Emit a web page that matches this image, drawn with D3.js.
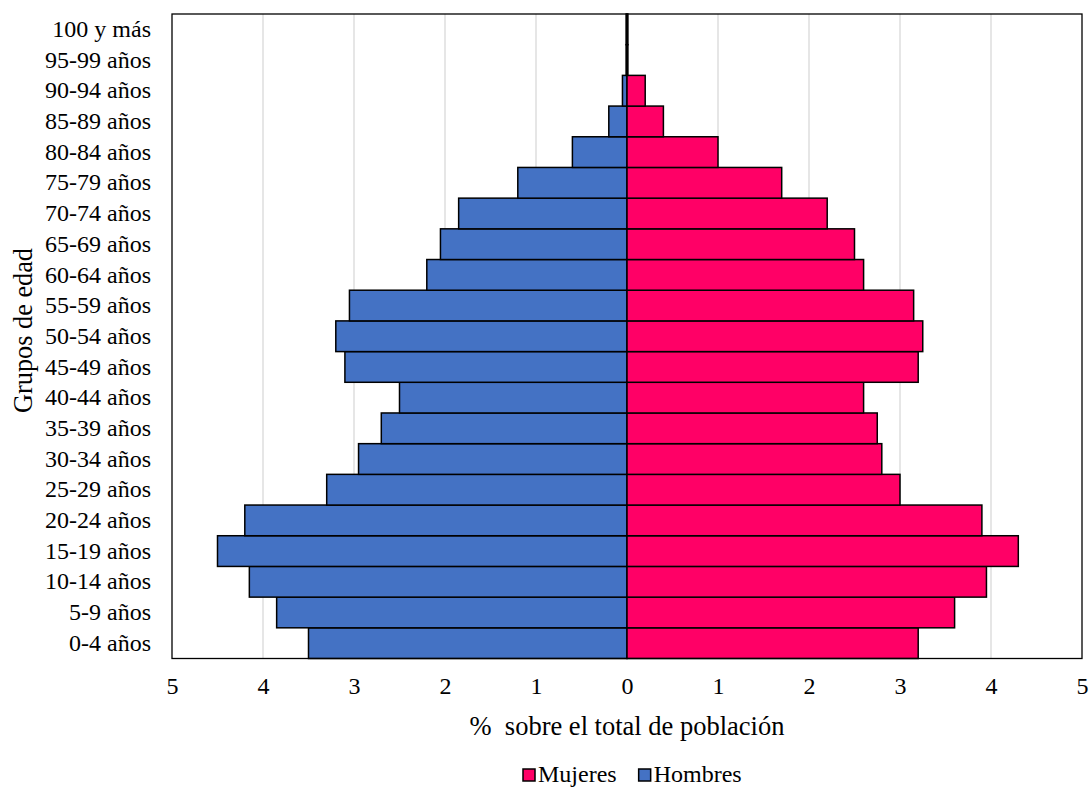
<!DOCTYPE html>
<html><head><meta charset="utf-8">
<script src="https://cdn.jsdelivr.net/npm/d3@7"></script>
<style>body{margin:0;background:#fff}svg{display:block}text{font-family:"Liberation Serif","Times New Roman",serif;fill:#000}</style>
</head><body>
<svg id="c" width="1090" height="787"></svg>
<script>
const groups = ["0-4 años","5-9 años","10-14 años","15-19 años","20-24 años","25-29 años","30-34 años","35-39 años","40-44 años","45-49 años","50-54 años","55-59 años","60-64 años","65-69 años","70-74 años","75-79 años","80-84 años","85-89 años","90-94 años","95-99 años","100 y más"];
const hombres = [3.5,3.85,4.15,4.5,4.2,3.3,2.95,2.7,2.5,3.1,3.2,3.05,2.2,2.05,1.85,1.2,0.6,0.2,0.05,0.01,0.01];
const mujeres = [3.2,3.6,3.95,4.3,3.9,3.0,2.8,2.75,2.6,3.2,3.25,3.15,2.6,2.5,2.2,1.7,1.0,0.4,0.2,0.01,0.01];
const xTicks = [-5,-4,-3,-2,-1,0,1,2,3,4,5];
const seriesNames = ["Mujeres","Hombres"];
const colors = {Mujeres:"#ff0066", Hombres:"#4472c4"};

const L=172, R=1082, T=14, B=658.5;
const svg = d3.select("#c");
const x = d3.scaleLinear().domain([-5,5]).range([L,R]);
const y = d3.scaleBand().domain(groups.slice().reverse()).range([T,B]).padding(0);

// gridlines
svg.append("g").selectAll("line").data(xTicks.filter(d=>d!==0 && Math.abs(d)!==5)).join("line")
  .attr("x1",d=>x(d)).attr("x2",d=>x(d)).attr("y1",T).attr("y2",B)
  .attr("stroke","#d9d9d9").attr("stroke-width",1.3);

// bars
const data = groups.map((g,i)=>({g, h:hombres[i], m:mujeres[i]}));
svg.append("g").selectAll("rect").data(data).join("rect")
  .attr("x",d=>x(-d.h)).attr("width",d=>x(0)-x(-d.h))
  .attr("y",d=>y(d.g)).attr("height",y.bandwidth())
  .attr("fill",colors.Hombres).attr("stroke","#000").attr("stroke-width",1.5);
svg.append("g").selectAll("rect").data(data).join("rect")
  .attr("x",x(0)).attr("width",d=>x(d.m)-x(0))
  .attr("y",d=>y(d.g)).attr("height",y.bandwidth())
  .attr("fill",colors.Mujeres).attr("stroke","#000").attr("stroke-width",1.5);

// frame
svg.append("rect").attr("x",L).attr("y",T).attr("width",R-L).attr("height",B-T)
  .attr("fill","none").attr("stroke","#000").attr("stroke-width",1.3);

// x axis labels
const xa = svg.append("g").attr("transform",`translate(0,${B})`)
  .call(d3.axisBottom(x).tickValues(xTicks).tickSize(0).tickPadding(18).tickFormat(d=>Math.abs(d)));
xa.select(".domain").remove();
xa.selectAll("text").style("font-size","24px").style("font-family","Liberation Serif");

// y axis labels
const ya = svg.append("g").attr("transform",`translate(${L},0)`)
  .call(d3.axisLeft(y).tickSize(0).tickPadding(21));
ya.select(".domain").remove();
ya.selectAll("text").style("font-size","24px").style("font-family","Liberation Serif");

// titles
svg.append("text").attr("x",627).attr("y",735).attr("text-anchor","middle")
  .style("font-size","26.5px").style("white-space","pre").text("%  sobre el total de población");
svg.append("text").attr("transform",`translate(32,${330.5}) rotate(-90)`).attr("text-anchor","middle")
  .style("font-size","26.3px").text("Grupos de edad");

// legend
const lg = svg.append("g");
let lx = 523;
seriesNames.forEach(n=>{
  lg.append("rect").attr("x",lx).attr("y",769).attr("width",12).attr("height",12)
    .attr("fill",colors[n]).attr("stroke","#000").attr("stroke-width",1.5);
  const t = lg.append("text").attr("x",lx+15).attr("y",782).style("font-size","24px").text(n);
  lx += 15 + t.node().getComputedTextLength() + 22;
});
</script>
</body></html>
